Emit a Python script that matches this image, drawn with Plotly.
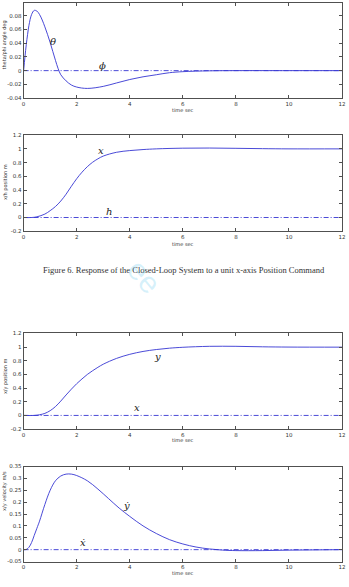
import plotly.graph_objects as go

# ---------------- data ----------------
t_theta = [0, 0.05, 0.1, 0.15, 0.2, 0.3, 0.4, 0.5, 0.6, 0.7, 0.8, 0.9, 1.0, 1.1, 1.2, 1.3, 1.4,
           1.6, 1.8, 2.0, 2.4, 3.0, 3.5, 4.0, 4.5, 5.0, 5.5, 6.0, 7.0, 8.0, 10.0, 12.0]
theta = [0, 0.02, 0.038, 0.053, 0.066, 0.082, 0.088, 0.087, 0.082, 0.074, 0.064, 0.053, 0.041,
         0.028, 0.015, 0.003, -0.006, -0.015, -0.021, -0.024, -0.026, -0.023, -0.018, -0.013,
         -0.009, -0.006, -0.003, -0.0015, -0.0003, 0, 0, 0]

t_x = [0, 0.3, 0.5, 0.8, 1.0, 1.2, 1.4, 1.6, 1.8, 2.0, 2.2, 2.4, 2.6, 2.8, 3.0, 3.5, 4.0, 4.5,
       5.0, 6.0, 7.0, 8.0, 9.0, 10.0, 12.0]
x_pos = [0, 0, 0.01, 0.05, 0.1, 0.16, 0.24, 0.34, 0.455, 0.565, 0.66, 0.74, 0.805, 0.855, 0.895,
         0.95, 0.975, 0.99, 1.0, 1.01, 1.012, 1.008, 1.003, 1.0, 1.0]

t_y = [0, 0.4, 0.6, 0.8, 1.0, 1.2, 1.4, 1.6, 1.8, 2.0, 2.2, 2.4, 2.6, 2.8, 3.0, 3.5, 4.0, 4.5,
       5.0, 5.5, 6.0, 7.0, 8.0, 9.0, 10.0, 12.0]
y_pos = [0, 0, 0.01, 0.03, 0.07, 0.13, 0.21, 0.3, 0.385, 0.465, 0.535, 0.6, 0.655, 0.705, 0.75,
         0.835, 0.895, 0.937, 0.965, 0.985, 0.998, 1.012, 1.012, 1.005, 1.001, 1.0]

t_v = [0, 0.1, 0.2, 0.3, 0.4, 0.5, 0.6, 0.8, 1.0, 1.2, 1.4, 1.6, 1.8, 2.0, 2.4, 2.8, 3.2, 3.6,
       4.0, 4.5, 5.0, 5.5, 6.0, 6.5, 7.0, 7.5, 8.0, 9.0, 10.0, 11.0, 12.0]
y_vel = [0, 0.001, 0.01, 0.03, 0.06, 0.09, 0.12, 0.19, 0.25, 0.29, 0.31, 0.318, 0.318, 0.312,
         0.29, 0.255, 0.215, 0.175, 0.14, 0.1, 0.068, 0.042, 0.024, 0.011, 0.003, -0.002,
         -0.004, -0.004, -0.002, -0.001, 0]

t_zero = [0, 12]
zero_line = [0, 0]

x_ticks = [0, 2, 4, 6, 8, 10, 12]
x_ticktext = ["0", "2", "4", "6", "8", "10", "12"]
y1_ticks = [-0.04, -0.02, 0, 0.02, 0.04, 0.06, 0.08, 0.1]
y1_ticktext = ["-0.04", "-0.02", "0", "0.02", "0.04", "0.06", "0.08", "0.1"]
y2_ticks = [-0.2, 0, 0.2, 0.4, 0.6, 0.8, 1, 1.2]
y2_ticktext = ["-0.2", "0", "0.2", "0.4", "0.6", "0.8", "1", "1.2"]
y4_ticks = [-0.05, 0, 0.05, 0.1, 0.15, 0.2, 0.25, 0.3, 0.35]
y4_ticktext = ["-0.05", "0", "0.05", "0.1", "0.15", "0.2", "0.25", "0.3", "0.35"]

ylabels = ["theta/phi angle deg", "x/h position m", "x/y position m", "x/y velocity m/s"]
xlabel = "time sec"
caption = "Figure 6. Response of the Closed-Loop System to a unit x-axis Position Command"

# ---------------- layout helpers ----------------
W, H = 349, 587
def py(p):
    return 1 - p / H
def px(p):
    return p / W

LINE = "#3535d2"
xdom = [px(22), px(346)]
ydoms = [[py(96), 1.0], [py(230.6), py(133.5)], [py(430.5), py(333.9)], [py(564.3), py(468.3)]]
yranges = [[-0.04, -0.04 + 96 / 691.7], [-0.2, 1.2], [-0.2, 1.2], [-0.05, 0.35]]
yticks = [(y1_ticks, y1_ticktext), (y2_ticks, y2_ticktext), (y2_ticks, y2_ticktext), (y4_ticks, y4_ticktext)]

fig = go.Figure()

def solid(tx, vy, i):
    ax = "" if i == 1 else str(i)
    fig.add_trace(go.Scatter(x=tx, y=vy, mode="lines", xaxis="x" + ax, yaxis="y" + ax,
                             line=dict(color=LINE, width=0.9, shape="spline", smoothing=1.0),
                             showlegend=False, hoverinfo="skip"))

def dashed(i):
    ax = "" if i == 1 else str(i)
    fig.add_trace(go.Scatter(x=t_zero, y=zero_line, mode="lines", xaxis="x" + ax, yaxis="y" + ax,
                             line=dict(color=LINE, width=0.9, dash="5px,2px,1px,2px"),
                             showlegend=False, hoverinfo="skip"))

solid(t_theta, theta, 1); dashed(1)
solid(t_x, x_pos, 2); dashed(2)
solid(t_y, y_pos, 3); dashed(3)
solid(t_v, y_vel, 4); dashed(4)

tickfont = dict(family="DejaVu Sans", size=5.5, color="#333333")
axis_common = dict(showgrid=False, zeroline=False, showline=True, linecolor="#505050",
                   linewidth=1, mirror="ticks", ticks="inside", ticklen=3, tickcolor="#505050",
                   tickfont=tickfont, ticklabeloverflow="allow")

layout = dict(width=W, height=H, margin=dict(l=0, r=0, t=0, b=0), autosize=False,
              paper_bgcolor="white", plot_bgcolor="white")
for i in range(1, 5):
    ax = "" if i == 1 else str(i)
    layout["xaxis" + ax] = dict(axis_common, domain=xdom, range=[0, 12], tickvals=x_ticks,
                                ticktext=x_ticktext, anchor="y" + ax, ticklabelstandoff=0)
    tv, tt = yticks[i - 1]
    layout["yaxis" + ax] = dict(axis_common, domain=ydoms[i - 1], range=yranges[i - 1],
                                tickvals=tv, ticktext=tt, anchor="x" + ax)
fig.update_layout(**layout)

ann = []
C = dict(xanchor="center", yanchor="middle", showarrow=False)
# x axis titles
for ypix in [108, 243, 442, 576]:
    ann.append(dict(C, x=px(184), y=py(ypix), xref="paper", yref="paper", text=xlabel,
                    font=dict(family="DejaVu Sans", size=5, color="#333333")))
# y axis titles
for lab, ypix in zip(ylabels, [42, 181, 377, 493]):
    ann.append(dict(C, x=px(3), y=py(ypix), xref="paper", yref="paper", text=lab, textangle=-90,
                    font=dict(family="DejaVu Sans", size=5, color="#333333")))
# math labels
mfont = dict(family="DejaVu Serif", size=10, color="#222222")
for txt, tx, vy, ax in [("<i>θ</i>", 1.1, 0.043, ""), ("<i>ϕ</i>", 2.96, 0.008, ""),
                        ("<i>x</i>", 2.9, 0.97, "2"), ("<i>h</i>", 3.23, 0.087, "2"),
                        ("<i>y</i>", 5.03, 0.86, "3"), ("<i>x</i>", 4.27, 0.12, "3"),
                        ("<i>ẏ</i>", 3.88, 0.187, "4"), ("<i>ẋ</i>", 2.25, 0.029, "4")]:
    ann.append(dict(C, x=tx, y=vy, xref="x" + ax, yref="y" + ax, text=txt, font=mfont))
# caption
ann.append(dict(C, x=px(185), y=py(270), xref="paper", yref="paper", text=caption,
                font=dict(family="Liberation Serif", size=8.5, color="#333333")))
# faint watermark
ann.append(dict(C, x=px(145), y=py(276), xref="paper", yref="paper", text="ee",
                textangle=50, font=dict(family="Liberation Sans", size=30, color="rgba(110,205,240,0.28)")))
fig.update_layout(annotations=ann)

fig.write_html("out.html")
